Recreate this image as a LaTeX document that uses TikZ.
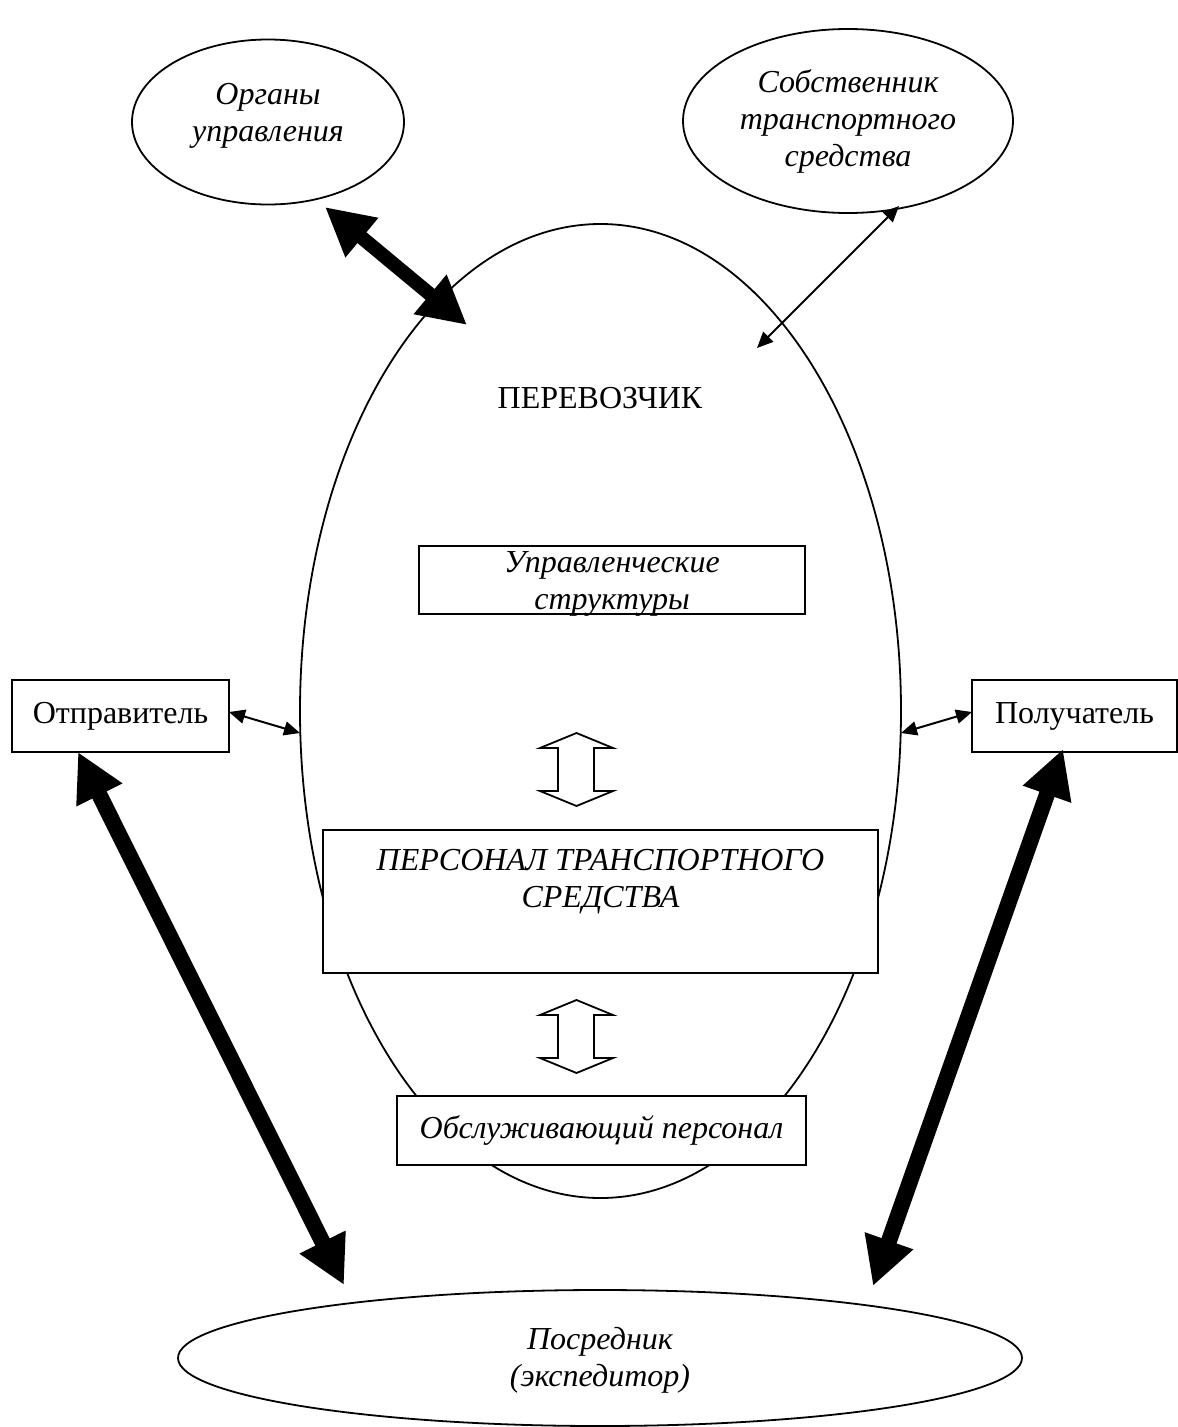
\documentclass[tikz,border=0pt]{standalone}
\usepackage{fontspec}
\setmainfont{Liberation Serif}
\usetikzlibrary{arrows.meta,shapes.geometric}
\begin{document}
\begin{tikzpicture}[x=1pt,y=-1pt,
  every node/.style={font=\fontsize{32}{37}\selectfont, align=center},
  oval/.style={draw, line width=1.8pt, ellipse, inner sep=0pt},
  box/.style={draw, line width=1.8pt, fill=white, inner sep=0pt},
  it/.style={font=\fontsize{32}{37}\selectfont\itshape},
  bigarrow/.style={line width=16pt,
    {Triangle[length=48pt,width=48pt]}-{Triangle[length=48pt,width=48pt]}},
  smallarrow/.style={line width=2pt,
    {Triangle[length=16pt,width=14pt]}-{Triangle[length=16pt,width=14pt]}},
  hollow/.style={draw, line width=1.8pt, fill=white, line join=miter},
  hollowarr/.pic={\draw[hollow] (36.5,0) -- (73,15) -- (54,15) -- (54,58) -- (73,58)
     -- (36.5,73) -- (0,58) -- (18,58) -- (18,15) -- (0,15) -- cycle;}
]
\useasboundingbox (0,0) rectangle (1178,1427);

% main carrier ellipse
\node[oval, minimum width=601pt, minimum height=974pt] (carrier) at (600.5,711) {};
\node (carriertxt) at (600,398) {ПЕРЕВОЗЧИК};

% outer ellipses
\node[oval, minimum width=272pt, minimum height=165pt] (organy) at (268,122) {};
\node[it] (organytxt) at (268,116) {Органы\\управления};
\node[oval, it, minimum width=330pt, minimum height=184pt] (owner) at (848,121) {Собственник\\транспортного\\средства};
\node[oval, minimum width=844pt, minimum height=136pt] (agent) at (600,1358) {};
\node[it] (agenttxt) at (600,1360) {Посредник\\(экспедитор)};

% boxes
\node[box, minimum width=386pt, minimum height=68pt] (mgmt) at (612,580) {};
\node[it] (mgmttxt) at (612,584) {Управленческие\\структуры};
\node[box, minimum width=217pt, minimum height=72pt] (sender) at (120.5,716) {Отправитель};
\node[box, minimum width=205pt, minimum height=72pt] (receiver) at (1074.5,716) {Получатель};
\node[box, minimum width=555pt, minimum height=143pt] (crew) at (600.5,901.5) {};
\node[it] (crewtxt) at (600.5,882) {ПЕРСОНАЛ ТРАНСПОРТНОГО\\СРЕДСТВА};
\node[box, it, minimum width=409pt, minimum height=69pt] (service) at (601.5,1130.5) {Обслуживающий персонал};

% hollow double arrows
\pic at (540,733) {hollowarr};
\pic at (540,1000) {hollowarr};

% connector end points
\coordinate (o1) at (325,207);   \coordinate (c1) at (467,325);
\coordinate (w1) at (899,206);   \coordinate (c2) at (757,348);
\coordinate (s1) at (229,712);   \coordinate (c3) at (300,733);
\coordinate (c4) at (901,733);   \coordinate (r1) at (972,712);
\coordinate (s2) at (78,752);    \coordinate (a1) at (344,1285);
\coordinate (r2) at (1063,749);  \coordinate (a2) at (873,1286);

\draw[bigarrow, line width=14pt] (o1) -- (c1);
\draw[smallarrow] (w1) -- (c2);
\draw[smallarrow] (s1) -- (c3);
\draw[smallarrow] (c4) -- (r1);
\draw[bigarrow] (s2) -- (a1);
\draw[bigarrow] (r2) -- (a2);
\end{tikzpicture}
\end{document}
